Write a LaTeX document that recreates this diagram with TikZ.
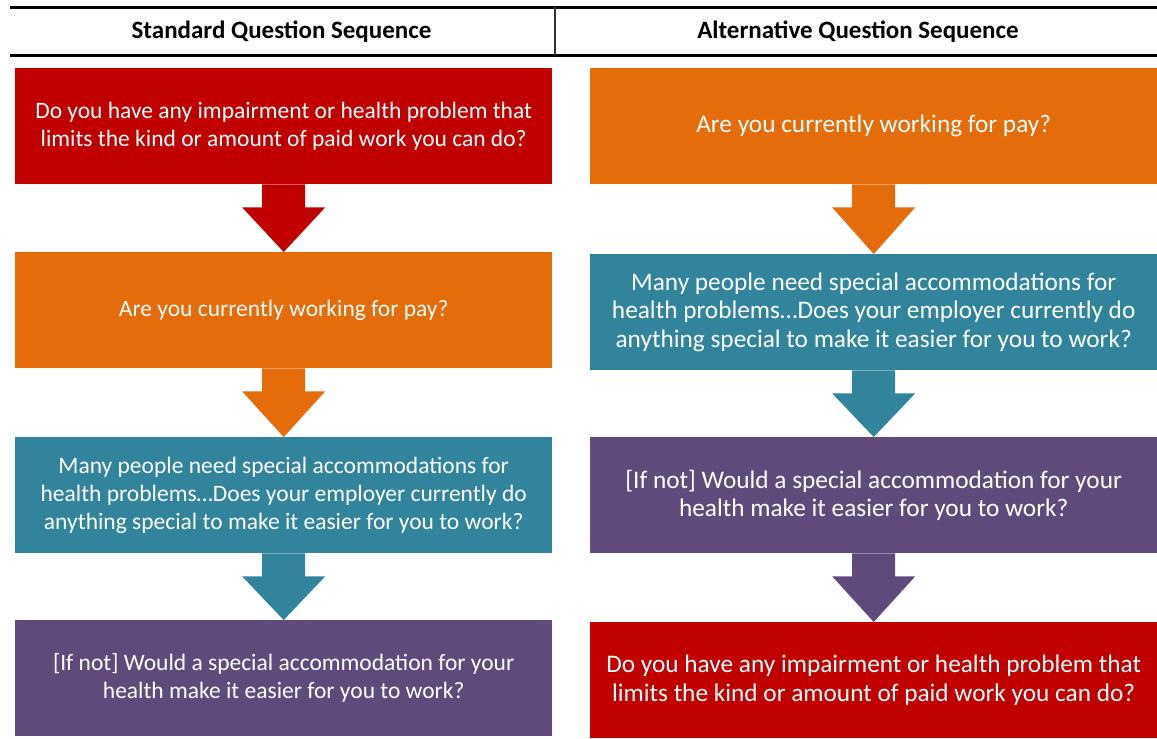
\documentclass[tikz,border=0pt]{standalone}
\usepackage{fontspec}
\setmainfont{Carlito}
\definecolor{qred}{HTML}{C00000}
\definecolor{qorange}{HTML}{E46C0A}
\definecolor{qteal}{HTML}{31849B}
\definecolor{qpurple}{HTML}{604A7B}
\begin{document}
\begin{tikzpicture}[x=1pt,y=-1pt,
  qbox/.style={minimum width=537pt, minimum height=116pt, inner sep=0pt, text=white,
    align=center, font=\fontsize{23.5}{28}\selectfont, anchor=north west},
  rbox/.style={qbox, minimum width=567pt, font=\fontsize{25.3}{28.5}\selectfont},
  head/.style={font=\bfseries\fontsize{25}{28}\selectfont, text=black},
  rule/.style={line width=3pt, black}]
\useasboundingbox (0,0) rectangle (1157,739);
% header
\coordinate (tl) at (10,7);
\coordinate (tr) at (1157,7);
\coordinate (bl) at (10,55);
\coordinate (br) at (1157,55);
\coordinate (dt) at (555,7);
\coordinate (db) at (555,55);
\draw[rule] (tl) -- (tr);
\draw[rule] (bl) -- (br);
\draw[line width=1.2pt, black!80] (dt) -- (db);
\node[head] (h1) at (281.5,32) {Standard Question Sequence};
\node[head] (h2) at (858,32) {Alternative Question Sequence};
% left column
\node[qbox, fill=qred] (l1) at (15,68) {Do you have any impairment or health problem that\\limits the kind or amount of paid work you can do?};
\node[qbox, fill=qorange] (l2) at (15,252) {Are you currently working for pay?};
\node[qbox, fill=qteal] (l3) at (15,437) {Many people need special accommodations for\\health problems\dots Does your employer currently do\\anything special to make it easier for you to work?};
\node[qbox, fill=qpurple] (l4) at (15,620) {[If not] Would a special accommodation for your\\health make it easier for you to work?};
% right column
\node[rbox, fill=qorange] (r1) at (590,68) {Are you currently working for pay?};
\node[rbox, fill=qteal] (r2) at (590,254) {Many people need special accommodations for\\health problems\dots Does your employer currently do\\anything special to make it easier for you to work?};
\node[rbox, fill=qpurple] (r3) at (590,437) {[If not] Would a special accommodation for your\\health make it easier for you to work?};
\node[rbox, fill=qred] (r4) at (590,622) {Do you have any impairment or health problem that\\limits the kind or amount of paid work you can do?};
% arrows
\newcommand{\blockarrow}[3]{%
  \fill[#1] ([xshift=-21.5pt]#2.south) -- ++(0,23) -- ++(-20,0) -- (#3.north)
    -- ([xshift=41.5pt,yshift=-23pt]#2.south) -- ++(-20,0) -- ([xshift=21.5pt]#2.south) -- cycle;}
\blockarrow{qred}{l1}{l2}
\blockarrow{qorange}{l2}{l3}
\blockarrow{qteal}{l3}{l4}
\blockarrow{qorange}{r1}{r2}
\blockarrow{qteal}{r2}{r3}
\blockarrow{qpurple}{r3}{r4}
\end{tikzpicture}
\end{document}
